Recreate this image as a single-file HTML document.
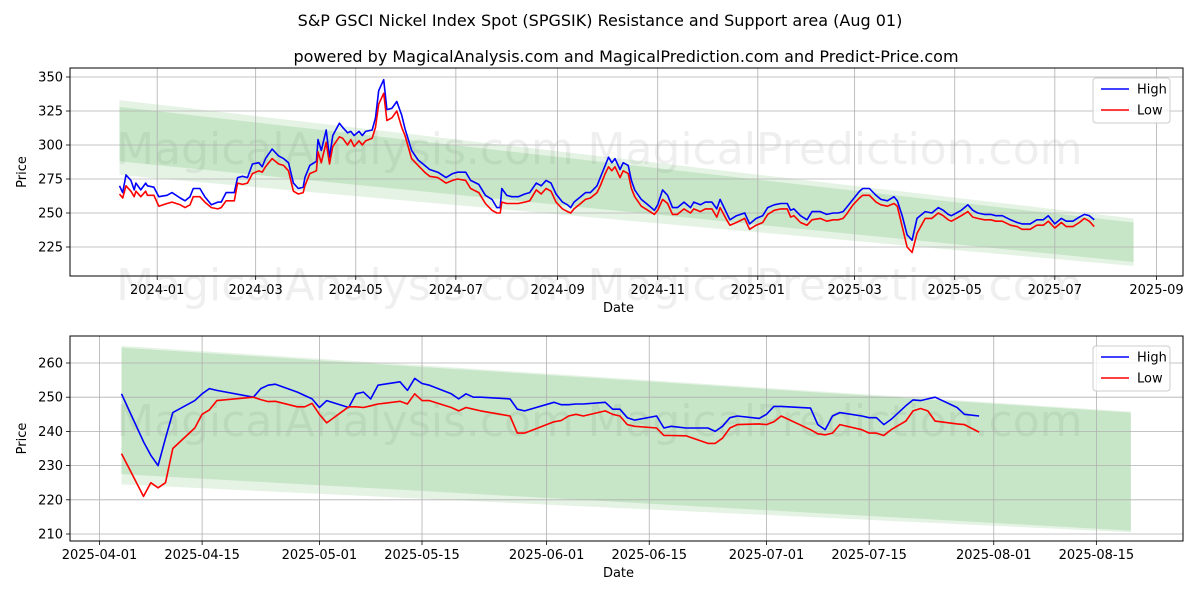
<!DOCTYPE html>
<html><head><meta charset="utf-8"><style>
html,body{margin:0;padding:0;background:#fff;}
svg{display:block;font-family:"DejaVu Sans","Liberation Sans",sans-serif;}
</style></head><body>
<svg id="chart" width="1200" height="600" viewBox="0 0 1200 600" xmlns="http://www.w3.org/2000/svg">
<rect width="1200" height="600" fill="#fff"/>
<text x="600" y="26" text-anchor="middle" font-size="16">S&amp;P GSCI Nickel Index Spot (SPGSIK) Resistance and Support area (Aug 01)</text>
<text x="626" y="62" text-anchor="middle" font-size="16">powered by MagicalAnalysis.com and MagicalPrediction.com and Predict-Price.com</text>
<g font-size="44" fill="rgba(120,120,120,0.12)" text-anchor="middle">
<text x="345" y="164">MagicalAnalysis.com</text><text x="835" y="164">MagicalPrediction.com</text>
<text x="345" y="300">MagicalAnalysis.com</text><text x="835" y="300">MagicalPrediction.com</text>
<text x="345" y="436">MagicalAnalysis.com</text><text x="835" y="436">MagicalPrediction.com</text>
</g>
<g id="topPanel"></g>
<g id="botPanel"></g>
</svg>
<script>
// ---- top chart data (days since 2024-01-01) ----
const topDays=[-23,-21,-19,-16,-14,-13,-10,-7,-6,-2,1,6,9,14,17,20,22,26,29,33,37,39,42,47,49,52,55,58,62,64,66,70,74,77,80,83,86,89,90,93,97,98,100,103,105,107,111,113,116,118,120,123,125,127,131,133,135,138,140,143,146,149,151,155,159,163,166,171,176,180,183,188,191,196,200,204,207,209,210,213,216,220,224,227,231,234,237,240,243,247,250,252,254,258,261,264,268,270,273,275,277,279,282,284,287,289,291,295,299,303,305,308,311,314,317,321,325,327,331,334,338,341,343,347,349,353,358,361,365,369,372,376,380,384,386,388,392,396,399,404,408,412,415,418,420,424,428,430,434,438,441,445,449,451,454,457,460,463,468,472,476,479,482,484,487,490,494,497,500,504,508,511,515,520,524,527,532,536,540,543,547,551,554,558,562,565,568,571];
const topHigh=[270,265,278,274,267,272,267,272,270,269,262,263,265,261,259,262,268,268,262,256,258,258,265,265,276,277,276,286,287,284,290,297,292,290,287,272,268,269,276,285,288,304,296,311,291,307,316,313,309,310,307,310,307,310,311,320,340,348,326,327,332,322,312,296,289,285,282,280,276,279,280,280,274,271,263,260,254,254,268,263,262,262,264,265,272,270,274,272,264,258,256,254,258,262,265,265,270,276,285,291,287,290,282,287,285,274,267,260,256,252,256,267,263,254,254,258,254,258,256,258,258,253,260,250,245,248,250,242,246,248,254,256,257,257,252,253,248,245,251,251,249,250,250,251,254,260,266,268,268,263,260,259,262,259,248,234,230,246,251,250,254,252,249,248,250,252,256,252,250,249,249,248,248,245,243,242,242,245,245,248,242,246,244,244,247,249,248,245];
const topLow=[264,261,270,266,262,266,262,266,263,263,255,257,258,256,254,256,262,262,258,254,253,254,259,259,272,271,272,279,281,280,284,290,286,285,281,266,264,265,270,279,281,295,287,302,286,299,306,305,300,304,299,303,300,303,305,313,330,338,318,320,325,313,307,290,285,280,277,276,272,274,275,274,268,265,257,252,250,250,258,257,257,257,258,259,267,264,268,266,258,253,251,250,253,257,260,261,265,270,279,284,281,284,276,281,279,268,262,255,252,249,252,260,257,249,249,253,250,253,251,253,253,247,254,245,241,243,246,238,241,243,249,252,253,253,247,248,243,241,245,246,244,245,245,246,249,256,261,263,263,258,256,255,257,255,240,225,221,235,246,246,250,248,245,244,246,248,251,247,246,245,245,244,244,241,240,238,238,241,241,244,239,243,240,240,243,246,244,240];
const topYTicks=[225,250,275,300,325,350];
const topXTickDays=[0,60,121,182,244,305,366,425,486,547,609];
const topXTickLabels=["2024-01","2024-03","2024-05","2024-07","2024-09","2024-11","2025-01","2025-03","2025-05","2025-07","2025-09"];
const topBandDays=[-23,595];
const topOuterUpper=[333,246];const topInnerUpper=[328,243];const topInnerLower=[288,214];const topOuterLower=[278,211];
// ---- bottom chart data (days since 2025-04-01) ----
const botDays=[3,6,7,8,9,10,13,14,15,16,21,22,23,24,27,28,29,30,31,34,35,36,37,38,41,42,43,44,45,48,49,50,51,52,56,57,58,62,63,64,65,66,69,70,71,72,73,76,77,78,80,83,84,85,86,87,90,91,92,93,97,98,99,100,101,104,105,106,107,108,110,111,112,113,114,117,118,120];
const botHigh=[251,237,233,230,238,245.5,249,251,252.5,252,250,252.5,253.5,253.8,251.5,250.5,249.5,247,249,247,251,251.5,249.5,253.5,254.5,252,255.5,254,253.5,251,249.5,251,250,250,249.5,246.5,246,248.5,247.8,247.8,248,248,248.5,246.5,246.5,244,243.3,244.5,241,241.5,241,241,240,241.5,244,244.5,243.8,245,247.3,247.3,246.8,242,240.5,244.5,245.5,244.5,244,244,242,243.5,247.5,249.2,249,249.5,250,247,245,244.5];
const botLow=[233.5,221,225,223.5,225,235,241,245,246.3,249,250,249.3,248.7,248.8,247.2,247.2,248.2,245,242.5,247.2,247.2,247,247.5,248,248.8,248,251,249,249,247,246,247,246.5,246,244.5,239.5,239.5,242.8,243.2,244.5,245,244.5,246,245,244.5,242,241.5,241,238.8,238.8,238.7,236.5,236.5,238,241,242,242.2,242,242.8,244.5,240.5,239.3,239,239.5,242,240.5,239.5,239.5,238.8,240.5,243,246,246.7,246,243,242.2,242,239.8];
const botYTicks=[210,220,230,240,250,260];
const botXTickDays=[0,14,30,44,61,75,91,105,122,136];
const botXTickLabels=["2025-04-01","2025-04-15","2025-05-01","2025-05-15","2025-06-01","2025-06-15","2025-07-01","2025-07-15","2025-08-01","2025-08-15"];
const botBandDays=[3,140.7];
const botOuterUpper=[265,245.8];const botInnerUpper=[264.5,245.5];const botInnerLower=[227.5,211];const botOuterLower=[224.5,210.5];

const NS="http://www.w3.org/2000/svg";
function mk(parent,tag,attrs){const e=document.createElementNS(NS,tag);for(const k in attrs)e.setAttribute(k,attrs[k]);parent.appendChild(e);return e;}

function drawPanel(g,cfg){
  const {L,R,T,B,xs,ys}=cfg;
  const band=(up,lo,fill,name)=>{
    const pts=[[xs(cfg.bandDays[0]),ys(up[0])],[xs(cfg.bandDays[1]),ys(up[1])],[xs(cfg.bandDays[1]),ys(lo[1])],[xs(cfg.bandDays[0]),ys(lo[0])]];
    const p=mk(g,'polygon',{points:pts.map(q=>q.join(',')).join(' '),fill:fill});
    
    
  };
  band(cfg.outerUpper,cfg.outerLower,'rgba(44,160,44,0.12)','support-resistance-outer-band');
  band(cfg.innerUpper,cfg.innerLower,'rgba(44,160,44,0.16)','support-resistance-inner-band');
  cfg.yTicks.forEach(v=>{
    const y=ys(v);
    const l=mk(g,'line',{x1:L,x2:R,y1:y,y2:y,stroke:'#b0b0b0','stroke-width':0.8});
    
    
    mk(g,'line',{x1:L-4,x2:L,y1:y,y2:y,stroke:'#000','stroke-width':0.8});
    const t=mk(g,'text',{x:L-7,y:y+4.5,'text-anchor':'end','font-size':13});
    t.textContent=v;
    
    
  });
  cfg.xTickDays.forEach((d,i)=>{
    const x=xs(d);
    const l=mk(g,'line',{x1:x,x2:x,y1:T,y2:B,stroke:'#b0b0b0','stroke-width':0.8});
    
    
    mk(g,'line',{x1:x,x2:x,y1:B,y2:B+4,stroke:'#000','stroke-width':0.8});
    const t=mk(g,'text',{x:x,y:B+18,'text-anchor':'middle','font-size':13});
    t.textContent=cfg.xTickLabels[i];
    
    
  });
  const line=(vals,color,name)=>{
    const d=cfg.days.map((dd,i)=>(i?'L':'M')+xs(dd).toFixed(1)+','+ys(vals[i]).toFixed(1)).join('');
    const p=mk(g,'path',{d:d,fill:'none',stroke:color,'stroke-width':1.6,'stroke-linejoin':'round'});
    
    
  };
  line(cfg.high,'#0000ff','high-line');
  line(cfg.low,'#ff0000','low-line');
  const f=mk(g,'rect',{x:L,y:T,width:R-L,height:B-T,fill:'none',stroke:'#000','stroke-width':1});
  
  
  const xl=mk(g,'text',{x:(L+R)/2-8,y:B+36,'text-anchor':'middle','font-size':13});
  xl.textContent='Date';
  
  
  const yl=mk(g,'text',{x:0,y:0,'text-anchor':'middle','font-size':13,transform:'translate('+(L-44)+','+((T+B)/2)+') rotate(-90)'});
  yl.textContent='Price';
  
  
  const lg=mk(g,'g',{});
  
  
  const lx=R-90, ly=T+10;
  mk(lg,'rect',{x:lx,y:ly,width:77,height:45,rx:3,fill:'#fff','fill-opacity':0.8,stroke:'#ccc'});
  [['High','#0000ff',11],['Low','#ff0000',32]].forEach(([n,c,o])=>{
    const e=mk(lg,'g',{});
    
    
    mk(e,'line',{x1:lx+8,x2:lx+36,y1:ly+o,y2:ly+o,stroke:c,'stroke-width':1.6});
    const t=mk(e,'text',{x:lx+44,y:ly+o+4.5,'font-size':13});
    t.textContent=n;
  });
}

const topG=document.getElementById('topPanel');


drawPanel(topG,{L:70,R:1183,T:68,B:276,
  xs:d=>157.2+d*1.641, ys:v=>77+(350-v)*34/25,
  yTicks:topYTicks,xTickDays:topXTickDays,xTickLabels:topXTickLabels,
  days:topDays,high:topHigh,low:topLow,bandDays:topBandDays,
  outerUpper:topOuterUpper,innerUpper:topInnerUpper,innerLower:topInnerLower,outerLower:topOuterLower});
const botG=document.getElementById('botPanel');


drawPanel(botG,{L:70,R:1183,T:336,B:541,
  xs:d=>99.5+d*7.33, ys:v=>363+(260-v)*3.42,
  yTicks:botYTicks,xTickDays:botXTickDays,xTickLabels:botXTickLabels,
  days:botDays,high:botHigh,low:botLow,bandDays:botBandDays,
  outerUpper:botOuterUpper,innerUpper:botInnerUpper,innerLower:botInnerLower,outerLower:botOuterLower});
</script>
</body></html>
